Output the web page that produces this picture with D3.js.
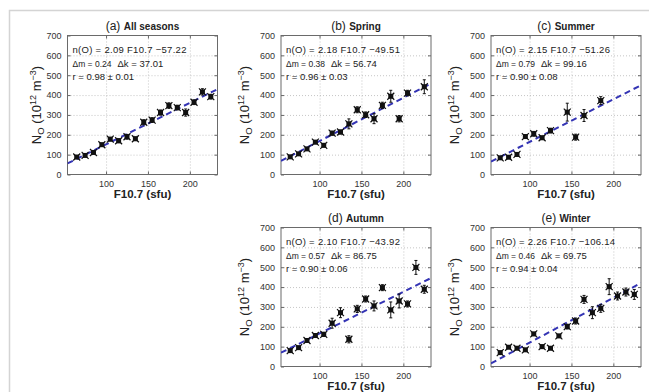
<!DOCTYPE html>
<html>
<head>
<meta charset="utf-8">
<script src="https://cdn.jsdelivr.net/npm/d3@7"></script>
<style>
  body { margin: 0; background: #fff; }
  svg { display: block; font-family: "Liberation Sans", Arial, sans-serif; }
</style>
</head>
<body>
<svg id="fig" width="649" height="392"></svg>
<script>
// F10.7 bin centres (sfu)
const binsAll = [65, 75, 85, 95, 105, 115, 125, 135, 145, 155, 165, 175, 185, 195, 205, 215, 225];
const binsSpring = [65, 75, 85, 95, 105, 115, 125, 135, 145, 155, 165, 175, 185, 195, 205, 225];
const binsSummer = [65, 75, 85, 95, 105, 115, 125, 145, 155, 165, 185];
const binsAutumn = binsAll;
const binsWinter = binsAll;

// N_O (10^12 m^-3) and error bars
const noAll = [88, 96, 111, 150, 178, 170, 190, 180, 263, 274, 312, 347, 337, 312, 364, 416, 392];
const errAll = [5, 5, 6, 8, 9, 10, 12, 9, 13, 12, 13, 14, 12, 18, 12, 16, 12];
const noSpring = [89, 104, 129, 163, 147, 208, 214, 255, 326, 301, 281, 348, 394, 281, 410, 442];
const errSpring = [5, 6, 7, 8, 8, 10, 10, 25, 15, 14, 25, 16, 30, 16, 14, 35];
const noSummer = [84, 87, 101, 191, 205, 185, 221, 314, 188, 297, 372];
const errSummer = [6, 6, 8, 9, 12, 8, 12, 45, 15, 30, 20];
const noAutumn = [80, 95, 131, 156, 162, 218, 271, 137, 290, 340, 305, 397, 285, 330, 315, 499, 389];
const errAutumn = [5, 6, 7, 8, 10, 25, 25, 18, 18, 15, 25, 15, 40, 35, 15, 35, 20];
const noWinter = [70, 97, 92, 84, 164, 100, 92, 154, 201, 229, 338, 271, 293, 402, 355, 375, 363];
const errWinter = [6, 6, 6, 6, 8, 8, 7, 8, 12, 15, 20, 30, 20, 40, 20, 20, 25];

// linear fits n(O) = m F10.7 + k
const fitSlope = [2.09, 2.18, 2.15, 2.10, 2.26];
const fitIntercept = [-57.22, -49.51, -51.26, -43.92, -106.14];
const fitDm = ["0.24", "0.38", "0.79", "0.57", "0.46"];
const fitDk = ["37.01", "56.74", "99.16", "86.75", "69.75"];
const fitR = ["0.98 ± 0.01", "0.96 ± 0.03", "0.90 ± 0.08", "0.90 ± 0.06", "0.94 ± 0.04"];

const panelLetters = ["(a)", "(b)", "(c)", "(d)", "(e)"];
const panelNames = ["All seasons", "Spring", "Summer", "Autumn", "Winter"];
const xTicks = [100, 150, 200];
const yTicks = [0, 100, 200, 300, 400, 500, 600, 700];

const panels = [
  { bins: binsAll, no: noAll, err: errAll, left: 67.5, top: 35.5, ylab: -27 },
  { bins: binsSpring, no: noSpring, err: errSpring, left: 281, top: 35.5, ylab: -32 },
  { bins: binsSummer, no: noSummer, err: errSummer, left: 491, top: 35.5, ylab: -32 },
  { bins: binsAutumn, no: noAutumn, err: errAutumn, left: 281, top: 227.5, ylab: -32 },
  { bins: binsWinter, no: noWinter, err: errWinter, left: 491, top: 227.5, ylab: -32 }
];

const W = 150, H = 139;
const svg = d3.select("#fig");

// light figure frame
svg.append("path")
  .attr("d", "M9.5,392V10.5H649")
  .attr("fill", "none").attr("stroke", "#d4d4d4").attr("stroke-width", 1.5);

panels.forEach((p, i) => {
  const x = d3.scaleLinear().domain([54, 233]).range([0, W]);
  const y = d3.scaleLinear().domain([0, 700]).range([H, 0]);
  const g = svg.append("g").attr("transform", "translate(" + p.left + "," + p.top + ")");

  g.append("clipPath").attr("id", "clip" + i)
    .append("rect").attr("width", W).attr("height", H);

  // dotted grid
  g.append("g").attr("class", "grid")
    .attr("transform", "translate(0," + H + ")")
    .call(d3.axisBottom(x).tickValues(xTicks).tickSize(-H).tickFormat(""));
  g.append("g").attr("class", "grid")
    .call(d3.axisLeft(y).tickValues(yTicks.slice(1, -1)).tickSize(-W).tickFormat(""));
  g.selectAll(".grid .domain").remove();
  g.selectAll(".grid line")
    .attr("stroke", "#b8b8b8").attr("stroke-width", 0.8).attr("stroke-dasharray", "1,2");

  // axes with inward ticks
  const xAx = g.append("g").attr("transform", "translate(0," + H + ")")
    .call(d3.axisBottom(x).tickValues(xTicks).tickSize(-3).tickPadding(6));
  const yAx = g.append("g")
    .call(d3.axisLeft(y).tickValues(yTicks).tickSize(-3).tickPadding(6));
  g.append("g").call(d3.axisTop(x).tickValues(xTicks).tickSize(-3).tickFormat(""));
  g.append("g").attr("transform", "translate(" + W + ",0)")
    .call(d3.axisRight(y).tickValues(yTicks).tickSize(-3).tickFormat(""));
  g.selectAll(".domain").remove();
  g.selectAll(".tick line").filter(function () { return !this.parentNode.parentNode.classList.contains("grid"); })
    .attr("stroke", "#666");
  [xAx, yAx].forEach(a => a.selectAll("text")
    .attr("font-size", 9).attr("fill", "#333").attr("font-family", "Liberation Sans, Arial, sans-serif"));
  xAx.selectAll("text").attr("dy", "0.71em");

  g.append("rect").attr("width", W).attr("height", H)
    .attr("fill", "none").attr("stroke", "#6a6a6a").attr("stroke-width", 1);

  // fit line
  const fitX = x.domain();
  g.append("line")
    .attr("clip-path", "url(#clip" + i + ")")
    .attr("x1", x(fitX[0])).attr("y1", y(fitSlope[i] * fitX[0] + fitIntercept[i]))
    .attr("x2", x(fitX[1])).attr("y2", y(fitSlope[i] * fitX[1] + fitIntercept[i]))
    .attr("stroke", "#3434b4").attr("stroke-width", 2).attr("stroke-dasharray", "6,4");

  // error bars + markers
  const pts = p.bins.map((b, j) => ({ f: b, n: p.no[j], e: p.err[j] }));
  const pg = g.append("g").attr("clip-path", "url(#clip" + i + ")");
  const pt = pg.selectAll(".pt").data(pts).enter().append("g");
  pt.append("line")
    .attr("x1", d => x(d.f)).attr("x2", d => x(d.f))
    .attr("y1", d => y(d.n - d.e)).attr("y2", d => y(d.n + d.e))
    .attr("stroke", "#111").attr("stroke-width", 1);
  pt.append("path")
    .attr("d", d => {
      const cx = x(d.f), t = y(d.n + d.e), b = y(d.n - d.e);
      return "M" + (cx - 1.5) + "," + t + "H" + (cx + 1.5) + "M" + (cx - 1.5) + "," + b + "H" + (cx + 1.5);
    })
    .attr("stroke", "#111").attr("stroke-width", 1);
  pt.append("rect")
    .attr("x", d => x(d.f) - 2.5).attr("y", d => y(d.n) - 2.5)
    .attr("width", 5).attr("height", 5).attr("fill", "#111");
  pt.append("path")
    .attr("d", d => {
      const cx = x(d.f), cy = y(d.n);
      return "M" + (cx - 3.5) + "," + (cy - 3.5) + "L" + (cx + 3.5) + "," + (cy + 3.5) +
        "M" + (cx - 3.5) + "," + (cy + 3.5) + "L" + (cx + 3.5) + "," + (cy - 3.5);
    })
    .attr("stroke", "#111").attr("stroke-width", 1.2);

  // annotations
  const ann = g.append("g").attr("font-size", 9.5).attr("fill", "#222");
  ann.append("text").attr("x", 5).attr("y", 17.5)
    .attr("textLength", i === 4 ? 119 : 114).attr("lengthAdjust", "spacing")
    .text("n(O) = " + fitSlope[i].toFixed(2) + " F10.7 \u2212" + Math.abs(fitIntercept[i]).toFixed(2));
  ann.append("text").attr("x", 5).attr("y", 31)
    .attr("textLength", 39).attr("lengthAdjust", "spacingAndGlyphs")
    .text("\u0394m = " + fitDm[i]);
  ann.append("text").attr("x", 50).attr("y", 31).text("\u0394k = " + fitDk[i]);
  ann.append("text").attr("x", 5).attr("y", 44.5).text("r = " + fitR[i]);

  // title
  const t = g.append("text").attr("x", W / 2).attr("y", -6)
    .attr("text-anchor", "middle").attr("fill", "#222");
  t.append("tspan").attr("font-size", 12).text(panelLetters[i] + " ");
  t.append("tspan").attr("font-size", 10).attr("font-weight", "bold").text(panelNames[i]);

  // x label
  g.append("text").attr("x", W / 2).attr("y", H + 23)
    .attr("text-anchor", "middle").attr("font-size", 11.5).attr("font-weight", "bold")
    .attr("fill", "#222").text("F10.7 (sfu)");

  // y label
  const yl = g.append("text")
    .attr("transform", "translate(" + p.ylab + "," + (H / 2) + ") rotate(-90)")
    .attr("text-anchor", "middle").attr("font-size", 13).attr("fill", "#222");
  yl.append("tspan").text("N");
  yl.append("tspan").attr("font-size", 9.5).attr("dy", 3).text("O");
  yl.append("tspan").attr("dy", -3).text(" (10");
  yl.append("tspan").attr("font-size", 9).attr("dy", -5).text("12");
  yl.append("tspan").attr("dy", 5).text(" m");
  yl.append("tspan").attr("font-size", 9).attr("dy", -5).text("\u22123");
  yl.append("tspan").attr("dy", 5).text(")");
});
</script>
</body>
</html>
